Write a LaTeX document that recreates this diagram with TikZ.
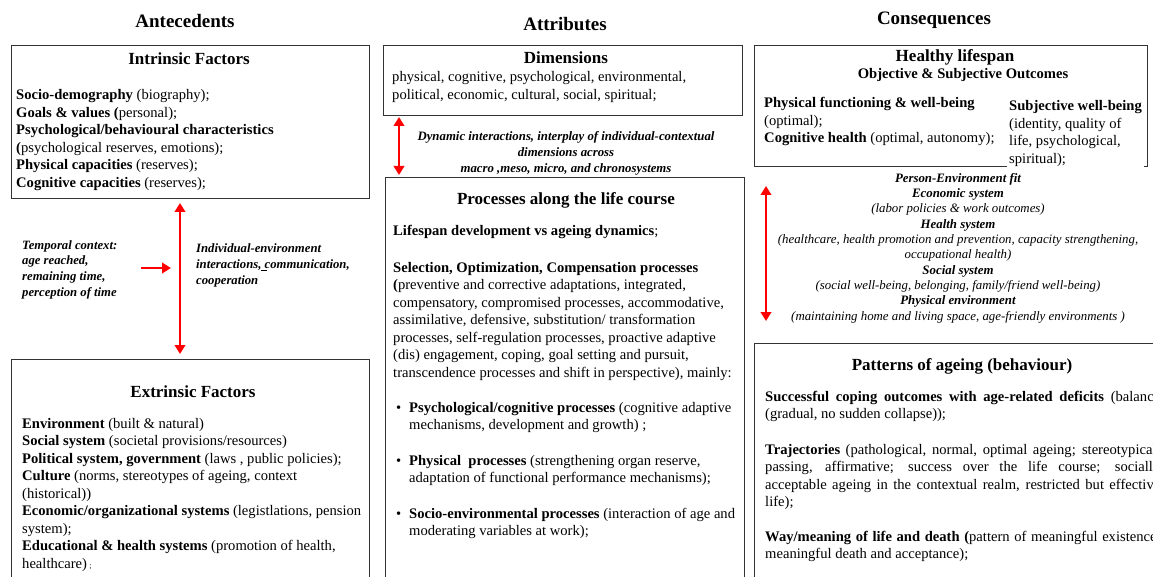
\documentclass[tikz,border=0pt]{standalone}
\usepackage{fontspec}
\setmainfont{Liberation Serif}
\usetikzlibrary{arrows.meta}
\newcommand{\jline}[1]{\makebox[395pt][s]{#1}}
\begin{document}
\begin{tikzpicture}[x=1pt,y=-1pt,
  box/.style={draw=black!80, line width=1.3pt, inner sep=0pt, anchor=north west},
  body/.style={font=\fontsize{14.6}{17.5}\selectfont, inner sep=0pt, align=left, anchor=base west},
  ttl/.style={font=\bfseries\fontsize{19}{22}\selectfont, inner sep=0pt, anchor=base},
  sub/.style={font=\bfseries\fontsize{17}{20}\selectfont, inner sep=0pt, anchor=base},
  bi/.style={font=\bfseries\itshape\fontsize{12.7}{15.7}\selectfont, inner sep=0pt},
  pe/.style={font=\itshape\fontsize{12.85}{15.33}\selectfont, inner sep=0pt, align=center, anchor=base},
  dbl/.style={red, line width=2.8pt, {Triangle[length=9pt,width=10.5pt]}-{Triangle[length=9pt,width=10.5pt]}},
  sgl/.style={red, line width=2.8pt, -{Triangle[length=9pt,width=10.5pt]}}]
\useasboundingbox (0,0) rectangle (1153,577);
\clip (0,0) rectangle (1153,577);
\fill[white] (0,0) rectangle (1153,577);

% (multi-line nodes are placed by the baseline of their LAST line)
% ---------- Antecedents ----------
\node[ttl] (antT) at (185,28) {Antecedents};
\node[box, minimum width=358pt, minimum height=153pt] (intr) at (11,45) {};
\node[sub] (intrT) at (189,65) {Intrinsic Factors};
\node[body] (intrB) at (16,187.5) {\textbf{Socio-demography} (biography);\\
\textbf{Goals \& values (}personal);\\
\textbf{Psychological/behavioural characteristics}\\
\textbf{(}psychological reserves, emotions);\\
\textbf{Physical capacities} (reserves);\\
\textbf{Cognitive capacities} (reserves);};

\coordinate (ia) at (180,203);
\coordinate (ib) at (180,354);
\draw[dbl] (ia) -- (ib);
\coordinate (ta) at (141,268);
\coordinate (tb) at (171,268);
\draw[sgl] (ta) -- (tb);

\node[bi, align=left, anchor=base west] (temp) at (22,296.1) {Temporal context:\\
age reached,\\
remaining time,\\
perception of time};
\node[bi, align=left, anchor=base west] (indiv) at (196,284.4) {Individual-environment\\
interactions,\rlap{\rule[-2.5pt]{6pt}{0.9pt}} communication,\\
cooperation};

\node[box, minimum width=358pt, minimum height=300pt] (extr) at (11,359) {};
\node[sub] (extrT) at (193,397) {Extrinsic Factors};
\node[body] (extrB) at (22,568) {\textbf{Environment} (built \& natural)\\
\textbf{Social system} (societal provisions/resources)\\
\textbf{Political system, government} (laws , public policies);\\
\textbf{Culture} (norms, stereotypes of ageing, context\\
(historical))\\
\textbf{Economic/organizational systems} (legistlations, pension\\
system);\\
\textbf{Educational \& health systems} (promotion of health,\\
healthcare)\,{\footnotesize;}};

% ---------- Attributes ----------
\node[ttl] (attT) at (565,31) {Attributes};
\node[box, minimum width=359pt, minimum height=70pt] (dims) at (383,45) {};
\node[sub] (dimsT) at (566,64) {Dimensions};
\node[body] (dimsB) at (392,99.5) {physical, cognitive, psychological, environmental,\\
political, economic, cultural, social, spiritual;};

\coordinate (da) at (399,117);
\coordinate (db) at (399,175);
\draw[dbl] (da) -- (db);
\node[bi, font=\bfseries\itshape\fontsize{12.8}{16}\selectfont, align=center, anchor=base] (dyn) at (566,173) {Dynamic interactions, interplay of individual-contextual\\
dimensions across\\
macro ,meso, micro, and chronosystems};

\node[box, minimum width=359pt, minimum height=450pt] (proc) at (385,177) {};
\node[sub] (procT) at (566,205) {Processes along the life course};
\node[body] (procA) at (393,236) {\textbf{Lifespan development vs ageing dynamics};};
\node[body] (procB) at (393,377) {\textbf{Selection, Optimization, Compensation processes}\\
\textbf{(}preventive and corrective adaptations, integrated,\\
compensatory, compromised processes, accommodative,\\
assimilative, defensive, substitution/ transformation\\
processes, self-regulation processes, proactive adaptive\\
(dis) engagement, coping, goal setting and pursuit,\\
transcendence processes and shift in perspective), mainly:};
\node[body] (bu1) at (396,412) {\textbullet};
\node[body] (pr1) at (409,429.5) {\textbf{Psychological/cognitive processes} (cognitive adaptive\\
mechanisms, development and growth) ;};
\node[body] (bu2) at (396,465) {\textbullet};
\node[body] (pr2) at (409,482.5) {\textbf{Physical\ \ processes} (strengthening organ reserve,\\
adaptation of functional performance mechanisms);};
\node[body] (bu3) at (396,518) {\textbullet};
\node[body] (pr3) at (409,535.5) {\textbf{Socio-environmental processes} (interaction of age and\\
moderating variables at work);};

% ---------- Consequences ----------
\node[ttl] (conT) at (934,25) {Consequences};
\node[box, minimum width=393pt, minimum height=121pt] (hlth) at (754,45) {};
\node[sub] (hlthT) at (955,62) {Healthy lifespan};
\node[font=\bfseries\fontsize{14.6}{17}\selectfont, inner sep=0pt, anchor=base] (hlthS) at (963,79) {Objective \& Subjective Outcomes};
\node[body] (hlthL) at (764,143) {\textbf{Physical functioning \& well-being}\\
(optimal);\\
\textbf{Cognitive health} (optimal, autonomy);};
\node[body, fill=white, inner xsep=2pt, inner ysep=4pt] (hlthR) at (1007,163.5) {\textbf{Subjective well-being}\\
(identity, quality of\\
life, psychological,\\
spiritual);};

\coordinate (ca) at (766,186);
\coordinate (cb) at (766,321);
\draw[dbl] (ca) -- (cb);
\node[pe] (pef) at (958,320) {\textbf{Person-Environment fit}\\
\textbf{Economic system}\\
(labor policies \& work outcomes)\\
\textbf{Health system}\\
(healthcare, health promotion and prevention, capacity strengthening,\\
occupational health)\\
\textbf{Social system}\\
(social well-being, belonging, family/friend well-being)\\
\textbf{Physical environment}\\
(maintaining home and living space, age-friendly environments )};

\node[box, minimum width=500pt, minimum height=300pt] (patt) at (754,343) {};
\node[sub] (pattT) at (962,370) {Patterns of ageing (behaviour)};
\node[body] (patA) at (765,418.5) {\jline{\textbf{Successful coping outcomes with age-related deficits} (balance}\\
(gradual, no sudden collapse));};
\node[body] (patB) at (765,506.5) {\jline{\textbf{Trajectories} (pathological, normal, optimal ageing; stereotypical,}\\
\jline{passing, affirmative; success over the life course; socially}\\
\jline{acceptable ageing in the contextual realm, restricted but effective}\\
life);};
\node[body] (patC) at (765,558.5) {\jline{\textbf{Way/meaning of life and death (}pattern of meaningful existence,}\\
meaningful death and acceptance);};
\end{tikzpicture}
\end{document}
